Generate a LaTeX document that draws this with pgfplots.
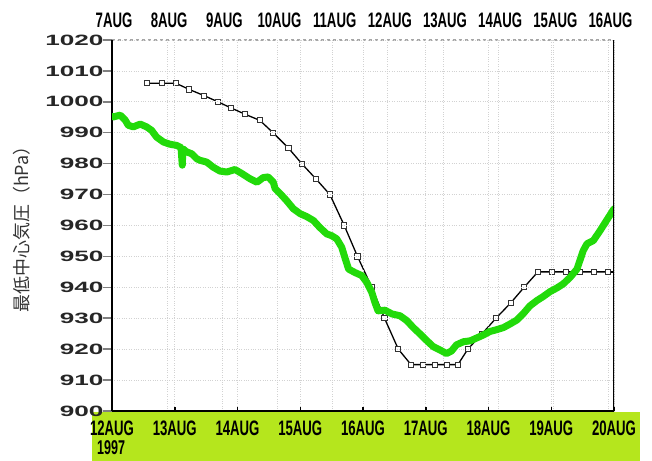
\documentclass[border=0pt]{standalone}
\usepackage{pgfplots}
\pgfplotsset{compat=1.18}
\usepackage{fontspec}
\setmainfont{Liberation Sans}
\newfontfamily\cjk{Noto Sans CJK JP}
\definecolor{band}{RGB}{181,230,29}
\definecolor{trk}{RGB}{34,218,10}
\newcommand\xl[1]{\scalebox{0.63}[1]{#1}}
\newcommand\yl[1]{\scalebox{1.75}[1]{#1}}
\pgfplotstableread{
x y
7.64 1006
7.90 1006
8.16 1006
8.40 1004
8.67 1002
8.92 1000
9.16 998
9.41 996
9.68 994
9.92 990
10.20 985
10.44 980
10.70 975
10.95 970
11.21 960
11.45 950
11.71 940
11.94 930
12.19 920
12.42 915
12.64 915
12.86 915
13.07 915
13.27 915
13.45 920
13.71 925
13.96 930
14.23 935
14.47 940
14.72 945
14.98 945
15.23 945
15.49 945
15.74 945
15.99 945
}\besttrack
\pgfplotstableread{
x y
12.00 995.3
12.02 995.1
12.13 995.7
12.21 994.1
12.26 992.4
12.34 991.9
12.45 992.8
12.55 991.9
12.63 990.8
12.71 988.6
12.82 987.0
12.92 986.3
13.03 985.9
13.10 985.2
13.12 979.5
13.13 984.8
13.19 983.8
13.27 983.2
13.35 981.6
13.40 981.1
13.51 980.5
13.61 978.9
13.72 977.6
13.83 977.3
13.96 978.1
14.07 976.8
14.20 975.1
14.31 974.0
14.41 975.5
14.49 975.7
14.57 974.0
14.60 971.9
14.68 970.3
14.78 968.1
14.89 965.4
15.00 963.8
15.10 962.9
15.21 961.6
15.31 959.4
15.42 957.3
15.50 956.7
15.58 955.7
15.66 953.0
15.71 949.7
15.77 945.9
15.87 944.8
15.98 943.8
16.06 941.6
16.14 938.4
16.19 935.1
16.24 932.4
16.35 932.6
16.46 931.4
16.59 930.8
16.70 929.2
16.80 927.0
16.91 924.9
17.02 922.7
17.12 920.8
17.23 919.7
17.33 918.6
17.41 919.4
17.49 921.4
17.60 922.4
17.71 922.7
17.81 923.6
17.92 924.6
18.02 925.7
18.13 926.3
18.24 927.0
18.34 928.1
18.45 929.4
18.55 931.4
18.66 934.0
18.77 935.7
18.87 937.0
18.98 938.6
19.09 939.8
19.19 941.1
19.30 943.2
19.41 945.9
19.51 951.9
19.57 954.1
19.67 955.1
19.78 958.4
19.88 961.6
20.00 965.4
}\satellite
\begin{document}
\begin{tikzpicture}[x=1bp,y=1bp]
\useasboundingbox (0,0) rectangle (652,461);
\fill[band] (92,0) rectangle (640,49);
\node[anchor=base west,inner sep=0pt,font=\fontsize{20}{20}\selectfont\bfseries] at (97,6) {\xl{1997}};
\node[rotate=90,inner sep=0pt,text=black!80,font=\cjk\fontsize{18}{18}\selectfont] at (22,236) {最低中心気圧（hPa）};
% top axis (best track)
\begin{axis}[
  at={(112bp,50bp)}, anchor=south west,
  scale only axis, width=502bp, height=371bp,
  xmin=7, xmax=16.1, ymin=900, ymax=1020,
  axis x line*=top, axis y line=none,
  x axis line style={gray!70, dashed, line width=1.2bp},
  xtick={7,...,16},
  xticklabels={\xl{7AUG},\xl{8AUG},\xl{9AUG},\xl{10AUG},\xl{11AUG},\xl{12AUG},\xl{13AUG},\xl{14AUG},\xl{15AUG},\xl{16AUG}},
  xticklabel style={anchor=south, inner sep=0pt, yshift=12bp, xshift=2bp, font=\fontsize{21}{21}\selectfont\bfseries},
  xtick style={draw=none},
  xmajorgrids, grid style={gray!35, dotted, line width=0.8bp},
  clip=true,
]
\addplot[black, line width=1.3bp, mark=square*, mark size=2.6bp, mark options={fill=white, draw=black!80, line width=1bp}] table[x=x,y=y]{\besttrack};
\addplot[black, line width=1.3bp] coordinates {(15.99,945) (16.1,945)};
\end{axis}
% bottom axis (satellite)
\begin{axis}[
  at={(112bp,50bp)}, anchor=south west,
  scale only axis, width=502bp, height=371bp,
  xmin=12, xmax=20, ymin=900, ymax=1020,
  axis x line*=bottom, axis y line*=left,
  axis line style={black, line width=1.5bp},
  xtick={12,...,20},
  xticklabels={\xl{12AUG},\xl{13AUG},\xl{14AUG},\xl{15AUG},\xl{16AUG},\xl{17AUG},\xl{18AUG},\xl{19AUG},\xl{20AUG}},
  xticklabel style={anchor=north, inner sep=0pt, yshift=-5bp, font=\fontsize{21}{21}\selectfont\bfseries},
  ytick={900,910,...,1020},
  yticklabels={\yl{900},\yl{910},\yl{920},\yl{930},\yl{940},\yl{950},\yl{960},\yl{970},\yl{980},\yl{990},\yl{1000},\yl{1010},\yl{1020}},
  yticklabel style={anchor=east, inner sep=0pt, xshift=-4bp, font=\fontsize{15}{15}\selectfont\bfseries, text=black!85},
  tick align=outside,
  ytick style={gray, line width=1.5bp, /pgfplots/major tick length=9bp},
  xtick style={black, line width=1.5bp, /pgfplots/major tick length=4bp, yshift=4bp},
  xmajorgrids, ymajorgrids, grid style={gray!35, dotted, line width=0.8bp},
  clip=true,
]
\addplot[trk, line width=7bp, line join=round, line cap=round] table[x=x,y=y]{\satellite};
\draw[black, line width=1.5bp] (rel axis cs:1,0) -- (rel axis cs:1,1);
\end{axis}
\end{tikzpicture}
\end{document}
